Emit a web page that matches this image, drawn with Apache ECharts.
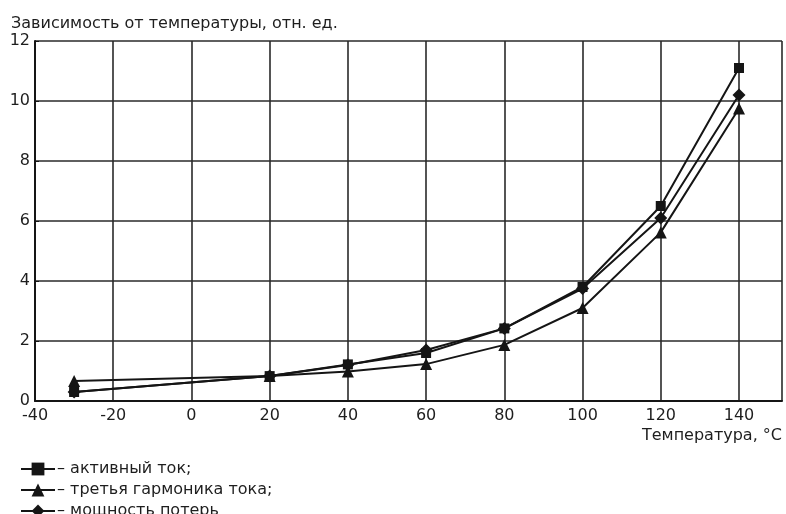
<!DOCTYPE html>
<html>
<head>
<meta charset="utf-8">
<script src="https://cdn.jsdelivr.net/npm/echarts@6/dist/echarts.min.js"></script>
<style>html,body{margin:0;padding:0;background:#fff;}#c{width:786px;height:514px;}</style>
</head>
<body>
<div id="c"></div>
<script>
const temperatures = [-30, 20, 40, 60, 80, 100, 120, 140];
const activeCurrent = [0.3, 0.83, 1.22, 1.6, 2.42, 3.8, 6.5, 11.1];
const thirdHarmonic = [0.67, 0.83, 0.98, 1.23, 1.87, 3.1, 5.62, 9.75];
const lossPower = [0.3, 0.83, 1.2, 1.7, 2.42, 3.75, 6.1, 10.2];
const seriesNames = ['активный ток;', 'третья гармоника тока;', 'мощность потерь'];
const titleText = 'Зависимость от температуры, отн. ед.';
const xAxisName = 'Температура, °C';

const pair = (ys) => temperatures.map((t, i) => [t, ys[i]]);
const font = '"DejaVu Sans", Verdana, sans-serif';
const ink = '#151515';
const txt = '#1e1e1e';

const chart = echarts.init(document.getElementById('c'), null, {renderer: 'canvas'});
chart.setOption({
  animation: false,
  backgroundColor: '#fff',
  title: {
    text: titleText, left: 6, top: 11,
    textStyle: {fontFamily: font, fontSize: 16, fontWeight: 'normal', color: txt}
  },
  legend: {
    orient: 'vertical', left: 15, top: 456, height: 90, itemGap: 5, itemWidth: 34, itemHeight: 16,
    data: seriesNames,
    formatter: (n) => '– ' + n,
    textStyle: {fontFamily: font, fontSize: 16, color: txt, padding: [0, 0, 0, -3]}
  },
  grid: {left: 35, right: 4, top: 41, bottom: 113, containLabel: false},
  xAxis: {
    type: 'value', min: -40, max: 151, interval: 20,
    name: xAxisName, nameLocation: 'end', nameGap: 0,
    nameTextStyle: {fontFamily: font, fontSize: 16, color: txt, align: 'right', verticalAlign: 'top', padding: [27, 0, 0, 0]},
    axisLine: {show: true, onZero: false, lineStyle: {color: ink, width: 2}},
    axisTick: {show: false},
    axisLabel: {fontFamily: font, fontSize: 16, color: txt, margin: 7,
      formatter: (v) => (v % 20 === 0 ? String(v) : '')},
    splitLine: {show: true, lineStyle: {color: '#2a2a2a', width: 1.6}}
  },
  yAxis: {
    type: 'value', min: 0, max: 12, interval: 2,
    axisLine: {show: true, onZero: false, lineStyle: {color: ink, width: 2}},
    axisTick: {show: true, inside: true, length: 4, lineStyle: {color: ink}},
    axisLabel: {fontFamily: font, fontSize: 16, color: txt, margin: 5},
    splitLine: {show: true, lineStyle: {color: '#2a2a2a', width: 1.6}}
  },
  series: [
    {name: seriesNames[0], type: 'line', data: pair(activeCurrent), symbol: 'rect', symbolSize: 10,
      lineStyle: {color: ink, width: 2}, itemStyle: {color: ink}},
    {name: seriesNames[1], type: 'line', data: pair(thirdHarmonic), symbol: 'triangle', symbolSize: 12,
      lineStyle: {color: ink, width: 2}, itemStyle: {color: ink}},
    {name: seriesNames[2], type: 'line', data: pair(lossPower), symbol: 'diamond', symbolSize: 13,
      lineStyle: {color: ink, width: 2}, itemStyle: {color: ink}}
  ]
});
</script>
</body>
</html>
